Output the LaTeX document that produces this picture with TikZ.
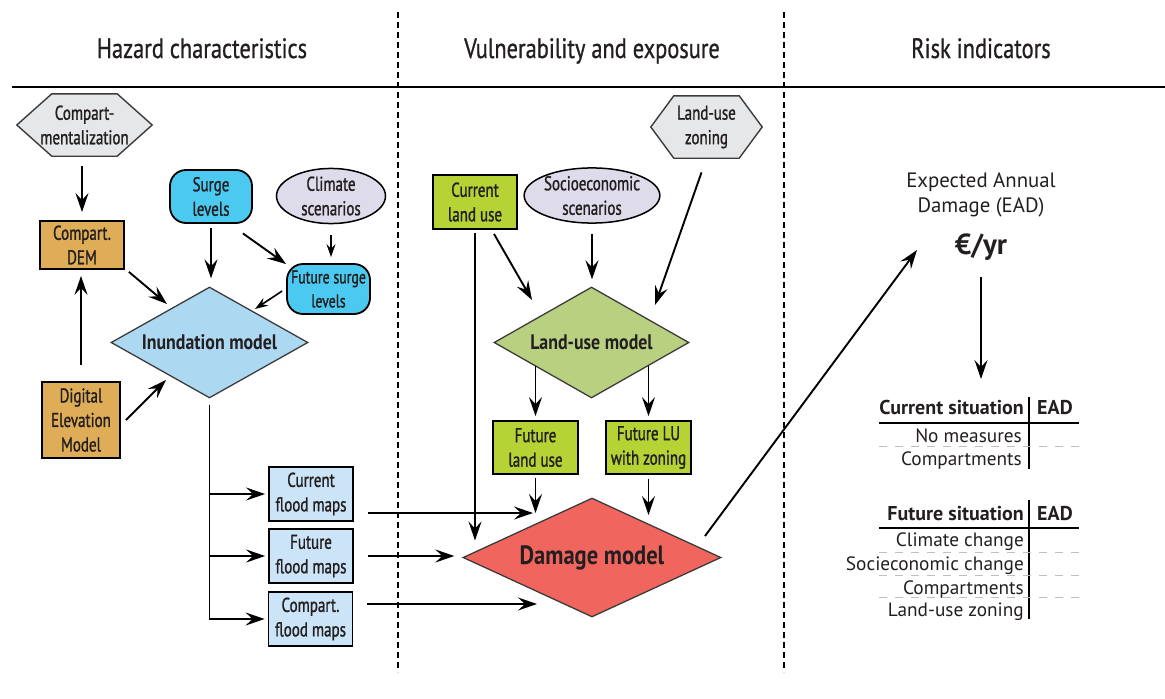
\documentclass[tikz,border=0pt]{standalone}
\usepackage{fontspec}
\setmainfont{PT Sans}
\newfontfamily\cnd[FakeStretch=0.75, UprightFeatures={FakeBold=1.2}]{PT Sans}
\newfontfamily\cndb[FakeStretch=0.85]{PT Sans}
\newfontfamily\headfont[FakeStretch=0.8, UprightFeatures={FakeBold=0.8}]{PT Sans}
\usetikzlibrary{arrows.meta,shapes.geometric,backgrounds}

\definecolor{ink}{HTML}{231F20}
\definecolor{edgegray}{HTML}{3C3C3C}
\definecolor{hexgray}{HTML}{E6E7E8}
\definecolor{demorange}{HTML}{DFAD57}
\definecolor{surgecyan}{HTML}{4CC9F0}
\definecolor{lavender}{HTML}{DEDBEA}
\definecolor{inunblue}{HTML}{ADD8F1}
\definecolor{mapblue}{HTML}{CCE4F7}
\definecolor{lime}{HTML}{B5D334}
\definecolor{lugreen}{HTML}{B8D07F}
\definecolor{dmgred}{HTML}{F0665F}

\begin{document}
\begin{tikzpicture}[x=1pt,y=-1pt,
  every node/.style={text=ink, inner sep=0pt},
  lbl/.style={font=\cnd\fontsize{20}{24.5}\selectfont, align=center},
  head/.style={font=\headfont\fontsize{28}{32}\selectfont},
  boxed/.style={lbl, rectangle, draw=black, line width=1.8pt},
  orangebox/.style={boxed, fill=demorange},
  limebox/.style={boxed, fill=lime},
  mapbox/.style={boxed, fill=mapblue, minimum width=84pt, minimum height=54pt},
  roundbox/.style={boxed, fill=surgecyan, rounded corners=16pt},
  oval/.style={lbl, ellipse, draw=black, line width=1.5pt, fill=lavender},
  model/.style={diamond, draw=edgegray, line width=1.3pt, font=\cndb\bfseries\fontsize{21}{24}\selectfont},
  hexline/.style={draw=edgegray, line width=1.4pt, fill=hexgray},
  arr/.style={draw=black, line width=1.9pt, -{Stealth[length=19pt,width=13pt,inset=7pt]}},
  sarr/.style={draw=black, line width=1.6pt, -{Stealth[length=13pt,width=9pt,inset=4.5pt]}},
  colsep/.style={draw=black, line width=1.8pt, dash pattern=on 6pt off 4pt},
  tab/.style={font=\fontsize{19.3}{24}\selectfont},
  tabhead/.style={font=\bfseries\fontsize{20}{24}\selectfont},
  tabrule/.style={draw=black, line width=2pt},
  tabcol/.style={draw=black, line width=1.5pt},
  tabdash/.style={draw=black!25, line width=0.8pt, dash pattern=on 8pt off 8pt}
]
\useasboundingbox (0,0) rectangle (1165,699);

% column headings, rule and column separators
\node[head, anchor=base] (h1) at (202,58) {Hazard characteristics};
\node[head, anchor=base] (h2) at (592,58) {Vulnerability and exposure};
\node[head, anchor=base] (h3) at (981,58) {Risk indicators};
\draw[line width=2pt] (12,87) -- (1165,87);
\draw[colsep] (398,12) -- (398,672);
\draw[colsep] (784,12) -- (784,672);

% ---- hazard characteristics ----
\node[lbl, minimum width=135pt, minimum height=62pt] (cm) at (84.5,125) {Compart-\\mentalization};
\node[orangebox, minimum width=84pt, minimum height=48pt] (cdem) at (82,245) {Compart.\\DEM};
\node[orangebox, minimum width=78pt, minimum height=76pt] (dem) at (81,420) {Digital\\Elevation\\Model};
\node[roundbox, minimum width=82pt, minimum height=53pt] (surge) at (211,196.5) {Surge\\levels};
\node[oval, minimum width=109pt, minimum height=55pt] (clim) at (331,196) {Climate\\scenarios};
\node[roundbox, minimum width=83pt, minimum height=50pt, font=\cnd\fontsize{18.5}{24}\selectfont] (fsurge) at (328.5,289) {Future surge\\levels};
\node[model, fill=inunblue, aspect=1.77, minimum width=197pt, minimum height=111pt] (inund) at (209.5,342.5) {Inundation model};
\node[mapbox] (cfm) at (311,494) {Current\\flood maps};
\node[mapbox] (ffm) at (311,556) {Future\\flood maps};
\node[mapbox] (cpfm) at (310.5,619) {Compart.\\flood maps};

% ---- vulnerability and exposure ----
\node[lbl, minimum width=111pt, minimum height=62pt] (zon) at (706.5,127) {Land-use\\zoning};
\node[limebox, minimum width=84pt, minimum height=54pt] (clu) at (475,202) {Current\\land use};
\node[oval, minimum width=120pt, minimum height=55pt] (socio) at (592,195.5) {Socioeconomic\\scenarios};
\node[model, fill=lugreen, aspect=1.76, minimum width=195pt, minimum height=111pt] (lum) at (591.5,342.5) {Land-use model};
\node[limebox, minimum width=85pt, minimum height=53pt] (fluse) at (535.5,447.5) {Future\\land use};
\node[limebox, minimum width=85pt, minimum height=53pt] (fluz) at (648.5,447.5) {Future LU\\with zoning};
\node[model, fill=dmgred, aspect=2.17, minimum width=258pt, minimum height=119pt, font=\cndb\bfseries\fontsize{26.5}{30}\selectfont] (dmg) at (592,557.5) {Damage model};

% hexagonal input shapes behind their labels
\begin{pgfonlayer}{background}
  \path[hexline] ([xshift=35pt]cm.north west) -- ([xshift=-35pt]cm.north east) -- (cm.east)
    -- ([xshift=-35pt]cm.south east) -- ([xshift=35pt]cm.south west) -- (cm.west) -- cycle;
  \path[hexline] ([xshift=23pt]zon.north west) -- ([xshift=-23pt]zon.north east) -- (zon.east)
    -- ([xshift=-23pt]zon.south east) -- ([xshift=23pt]zon.south west) -- (zon.west) -- cycle;
\end{pgfonlayer}

% ---- risk indicators ----
\node[font=\fontsize{20.8}{25}\selectfont, align=center] (ead) at (981,194.5) {Expected Annual\\Damage (EAD)};
\node[font=\bfseries\fontsize{29}{32}\selectfont] (eur) at (981,247) {€/yr};
\coordinate (tabtop) at (981,379);

% current situation table
\node[tabhead, anchor=base east] (cs) at (1024,414) {Current situation};
\node[tabhead, anchor=base west] (cse) at (1037,414) {EAD};
\node[tab, anchor=base east] (cs1) at (1022,442) {No measures};
\node[tab, anchor=base east] (cs2) at (1022,465) {Compartments};
\draw[tabrule] (879,423) -- (1079,423);
\draw[tabcol] (1029,397) -- (1029,469);
\draw[tabdash] (879,446) -- (1079,446);

% future situation table
\node[tabhead, anchor=base east] (fs) at (1024,520) {Future situation};
\node[tabhead, anchor=base west] (fse) at (1037,520) {EAD};
\node[tab, anchor=base east] (fs1) at (1024,546) {Climate change};
\node[tab, anchor=base east] (fs2) at (1024,570) {Socieconomic change};
\node[tab, anchor=base east] (fs3) at (1024,594) {Compartments};
\node[tab, anchor=base east] (fs4) at (1024,616) {Land-use zoning};
\draw[tabrule] (879,528) -- (1079,528);
\draw[tabcol] (1029,500) -- (1029,619);
\draw[tabdash] (879,552) -- (1079,552);
\draw[tabdash] (879,575) -- (1079,575);
\draw[tabdash] (879,597) -- (1079,597);

% ---- connectors: hazard ----
\draw[arr, shorten <=10pt, shorten >=8pt] (cdem.north |- cm.south) -- (cdem.north);
\draw[arr, shorten <=16pt, shorten >=6pt] (dem.north) -- (dem.north |- cdem.south);
\draw[arr] ([shift={(4,2)}]cdem.south east) -- ([shift={(-42.5,-38.5)}]inund.center);
\draw[arr, shorten <=4pt, shorten >=8pt] (surge.south) -- (surge.south |- inund.north);
\draw[arr] ([shift={(-10,9.5)}]surge.south east) -- ([shift={(0,1)}]fsurge.north west);
\draw[sarr, shorten <=11pt, shorten >=6pt] (clim.south) -- (clim.south |- fsurge.north);
\draw[sarr] ([shift={(-4,2)}]fsurge.west) -- ([shift={(45.5,-33.5)}]inund.center);
\draw[arr] ([shift={(5,0)}]dem.east) -- ([shift={(-43.5,37.5)}]inund.center);
\draw[arr, shorten <=6pt, shorten >=3pt] (inund.south) |- (cfm.west);
\draw[arr, shorten <=6pt, shorten >=3pt] (inund.south) |- (ffm.west);
\draw[arr, shorten <=6pt, shorten >=3pt] (inund.south) |- (cpfm.west);

% ---- connectors: vulnerability ----
\coordinate (dTip1) at (533,513);
\coordinate (dTip2) at (648.5,515);
\coordinate (dTip3) at (537,604);
\draw[arr] ([shift={(14,19)}]cfm.east) -- (dTip1);
\draw[arr, shorten <=14pt, shorten >=8pt] (ffm.east) -- (ffm.east -| dmg.west);
\draw[arr] ([shift={(14,-15)}]cpfm.east) -- (dTip3);
\draw[arr, shorten <=3pt, shorten >=17pt] (clu.south) -- (clu.south |- dmg.west);
\draw[arr] ([shift={(19,4)}]clu.south) -- ([shift={(-59.5,-42.5)}]lum.center);
\draw[arr, shorten <=10pt, shorten >=7pt] (socio.south) -- (socio.south |- lum.north);
\draw[arr, shorten <=15pt] (zon.south) -- ([shift={(63.5,-37.5)}]lum.center);
\draw[arr, shorten <=23.5pt, shorten >=4pt] (fluse.north |- lum.center) -- (fluse.north);
\draw[arr, shorten <=23pt, shorten >=4pt] (fluz.north |- lum.center) -- (fluz.north);
\draw[arr, shorten <=3pt] (fluse.south) -- (fluse.south |- dTip1);
\draw[arr, shorten <=4pt] (fluz.south) -- (dTip2);

% ---- connectors: risk ----
\draw[arr] ([shift={(113,-21.5)}]dmg.center) -- ([shift={(-64,3)}]eur.center);
\draw[arr, shorten <=30pt] (eur.center) -- (tabtop);
\end{tikzpicture}
\end{document}
